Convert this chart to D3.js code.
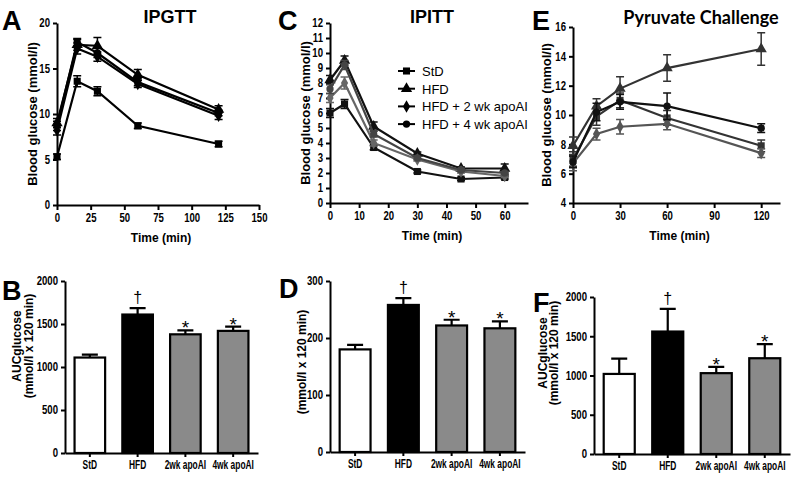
<!DOCTYPE html>
<html>
<head>
<meta charset="utf-8">
<script src="https://cdn.jsdelivr.net/npm/d3@7"></script>
<style>
  body { margin: 0; background: #fff; }
  svg { display: block; }
  .tick text { font-family: "Liberation Sans", Arial, sans-serif; font-weight: bold; font-size: 12px; fill: #000; }
  .axt { font-family: "Liberation Sans", Arial, sans-serif; font-weight: bold; font-size: 12px; }
  .ttl { font-family: "Liberation Sans", Arial, sans-serif; font-weight: bold; font-size: 18px; }
  .lab { font-family: "Liberation Sans", Arial, sans-serif; font-weight: bold; font-size: 27px; }
  .leg { font-family: "Liberation Sans", Arial, sans-serif; font-size: 13px; }
</style>
</head>
<body>
<svg id="fig" width="797" height="477"></svg>
<script>
// groups
var groups = ['StD', 'HFD', 'HFD + 2 wk apoAI', 'HFD + 4 wk apoAI'];
var barLabels = ['StD', 'HFD', '2wk apoAI', '4wk apoAI'];

// A - IPGTT
var ipgttTime = [0, 15, 30, 60, 120];
var ipgttMean = [
  [5.3, 13.6, 12.5, 8.7, 6.7],
  [9.0, 17.6, 17.5, 14.3, 10.5],
  [8.2, 17.2, 16.3, 13.3, 9.8],
  [8.7, 17.9, 16.7, 13.5, 10.1]
];
var ipgttErr = [
  [0.3, 0.6, 0.5, 0.3, 0.3],
  [0.5, 0.6, 0.9, 0.6, 0.4],
  [0.5, 0.6, 0.5, 0.4, 0.4],
  [0.5, 0.4, 0.5, 0.4, 0.3]
];

// C - IPITT
var ipittTime = [0, 5, 15, 30, 45, 60];
var ipittMean = [
  [6.0, 6.6, 3.7, 2.1, 1.6, 1.7],
  [8.2, 9.5, 5.1, 3.3, 2.3, 2.3],
  [7.0, 8.0, 4.0, 2.9, 2.1, 1.8],
  [7.6, 9.2, 4.6, 3.0, 2.2, 2.0]
];
var ipittErr = [
  [0.3, 0.3, 0.15, 0.1, 0.1, 0.1],
  [0.3, 0.3, 0.3, 0.1, 0.1, 0.3],
  [0.3, 0.4, 0.2, 0.1, 0.1, 0.1],
  [0.3, 0.3, 0.2, 0.1, 0.1, 0.1]
];

// E - pyruvate
var pyrTime = [0, 15, 30, 60, 120];
var pyrMean = [
  [7.0, 9.9, 11.0, 9.8, 7.9],
  [7.9, 10.6, 11.8, 13.2, 14.5],
  [6.7, 8.7, 9.2, 9.4, 7.4],
  [6.8, 10.2, 10.9, 10.6, 9.1]
];
var pyrErr = [
  [0.5, 0.6, 0.5, 0.5, 0.4],
  [0.6, 0.5, 0.8, 0.9, 1.1],
  [0.5, 0.4, 0.5, 0.4, 0.3],
  [0.4, 0.6, 0.5, 0.9, 0.3]
];

// AUC bars
var aucB = [1110, 1610, 1380, 1420], aucBErr = [35, 75, 45, 50];
var aucD = [180, 258, 222, 217], aucDErr = [8, 12, 10, 12];
var aucF = [1020, 1560, 1030, 1220], aucFErr = [195, 290, 80, 180];
var sigMarks = ['', '\u2020', '*', '*'];

var svg = d3.select('#fig');
var symbols = [d3.symbolSquare, d3.symbolTriangle, d3.symbolDiamond, d3.symbolCircle];
var symSize = [50, 55, 45, 42];
var barFill = ['#fff', '#000', '#8a8a8a', '#8a8a8a'];
var SX = 0.8; // narrow look for tick labels

function styleAxis(g) {
  g.selectAll('.domain').attr('stroke', '#000').attr('stroke-width', 2);
  g.selectAll('.tick line').attr('stroke', '#000').attr('stroke-width', 2);
  g.selectAll('.tick text').attr('transform', `scale(${SX},1)`);
}
function leftFix(g) {
  g.selectAll('.tick text').attr('x', -7 / SX);
}

function linePanel(o) {
  var x = d3.scaleLinear().domain(o.xd).range(o.xr);
  var y = d3.scaleLinear().domain(o.yd).range(o.yr);
  var g = svg.append('g');
  g.append('g').attr('transform', `translate(0,${o.yr[0]})`)
    .call(d3.axisBottom(x).tickValues(o.xt).tickSize(5).tickSizeOuter(0).tickFormat(d3.format('d')))
    .call(styleAxis);
  g.append('g').attr('transform', `translate(${o.xr[0]},0)`)
    .call(d3.axisLeft(y).tickValues(o.yt).tickSize(4).tickSizeOuter(0).tickFormat(d3.format('d')))
    .call(styleAxis).call(leftFix);
  var line = d3.line().x((d, i) => x(o.t[i])).y(d => y(d));
  o.m.forEach(function(ser, k) {
    var c = o.col[k];
    g.append('path').datum(ser).attr('d', line).attr('fill', 'none')
      .attr('stroke', c).attr('stroke-width', 2.2);
    ser.forEach(function(v, i) {
      var e = o.e[k][i], cx = x(o.t[i]);
      g.append('path').attr('d', `M${cx},${y(v - e)}V${y(v + e)}M${cx - 4},${y(v + e)}H${cx + 4}M${cx - 4},${y(v - e)}H${cx + 4}`)
        .attr('stroke', c).attr('stroke-width', 1.5).attr('fill', 'none');
      g.append('path').attr('d', d3.symbol(symbols[k], symSize[k])())
        .attr('transform', `translate(${cx},${y(v)})`).attr('fill', c);
    });
  });
  svg.append('text').attr('class', 'axt').attr('x', (o.xr[0] + o.xr[1]) / 2 + 3).attr('y', o.yr[0] + 37)
    .attr('text-anchor', 'middle').text('Time (min)');
  svg.append('text').attr('class', 'axt').style('font-size', '13px')
    .attr('transform', `translate(${o.ylx},${(o.yr[0] + o.yr[1]) / 2}) rotate(-90)`)
    .attr('text-anchor', 'middle').text('Blood glucose (mmol/l)');
  return g;
}

function barPanel(o) {
  var x = d3.scaleBand().domain(barLabels).range(o.xr).paddingInner(0.36).paddingOuter(0.2);
  var y = d3.scaleLinear().domain(o.yd).range(o.yr);
  var g = svg.append('g');
  o.v.forEach(function(v, i) {
    var bx = x(barLabels[i]), bw = x.bandwidth(), cx = bx + bw / 2, top = y(v + o.e[i]);
    g.append('path').attr('d', `M${cx},${y(v)}V${top}M${cx - 8},${top}H${cx + 8}`)
      .attr('stroke', '#000').attr('stroke-width', 2.2);
    g.append('rect').attr('x', bx).attr('y', y(v)).attr('width', bw).attr('height', y(0) - y(v))
      .attr('fill', barFill[i]).attr('stroke', '#000').attr('stroke-width', 2.2);
    g.append('text').attr('x', cx).attr('y', top - (i == 1 ? 5 : -4)).attr('text-anchor', 'middle')
      .style('font-family', 'Liberation Sans, Arial, sans-serif').style('font-size', i == 1 ? '16px' : '19px')
      .text(sigMarks[i]);
  });
  g.append('g').attr('transform', `translate(0,${o.yr[0]})`)
    .call(d3.axisBottom(x).tickSize(4).tickSizeOuter(0).tickPadding(3))
    .call(styleAxis)
    .call(a => a.selectAll('.tick text').attr('transform', 'scale(0.7,1)'));
  g.append('g').attr('transform', `translate(${o.xr[0]},0)`)
    .call(d3.axisLeft(y).tickValues(o.yt).tickSize(4).tickSizeOuter(0).tickFormat(d3.format('d')))
    .call(styleAxis).call(leftFix);
  o.yl.forEach(function(t, j) {
    svg.append('text').attr('class', 'axt')
      .attr('transform', `translate(${o.ylx[j]},${o.cy}) rotate(-90)`)
      .attr('text-anchor', 'middle').text(t);
  });
}

linePanel({ xd: [0, 150], xr: [57, 259], yd: [0, 20], yr: [205, 23],
  xt: [0, 25, 50, 75, 100, 125, 150], yt: [0, 5, 10, 15, 20],
  t: ipgttTime, m: ipgttMean, e: ipgttErr, col: ['#000', '#000', '#000', '#000'], ylx: 37 });
linePanel({ xd: [0, 68], xr: [330, 528], yd: [0, 12], yr: [203, 23],
  xt: [0, 10, 20, 30, 40, 50, 60], yt: d3.range(0, 13),
  t: ipittTime, m: ipittMean, e: ipittErr, col: ['#111', '#111', '#666', '#444'], ylx: 310 });
linePanel({ xd: [0, 132], xr: [573, 780], yd: [4, 16], yr: [203, 27],
  xt: [0, 30, 60, 90, 120], yt: [4, 6, 8, 10, 12, 14, 16],
  t: pyrTime, m: pyrMean, e: pyrErr, col: ['#333', '#333', '#555', '#111'], ylx: 551 });

barPanel({ xr: [65, 258], yd: [0, 2000], yr: [453, 281], yt: [0, 500, 1000, 1500, 2000],
  v: aucB, e: aucBErr, yl: ['AUCglucose', '(mmol/l x 120 min)'], ylx: [21, 33], cy: 346 });
barPanel({ xr: [330, 525], yd: [0, 300], yr: [452, 281], yt: [0, 100, 200, 300],
  v: aucD, e: aucDErr, yl: ['(mmol/l x 120 min)'], ylx: [306], cy: 362 });
barPanel({ xr: [594, 790], yd: [0, 2000], yr: [454, 297], yt: [0, 500, 1000, 1500, 2000],
  v: aucF, e: aucFErr, yl: ['AUCglucose', '(mmol/l x 120 min)'], ylx: [547, 558], cy: 353 });

// legend (panel C)
groups.forEach(function(gname, k) {
  var ly = 71 + k * 17.7;
  svg.append('path').attr('d', `M398,${ly}H415`).attr('stroke', '#000').attr('stroke-width', 2);
  svg.append('path').attr('d', d3.symbol(symbols[k], symSize[k])()).attr('transform', `translate(406.5,${ly})`);
  svg.append('text').attr('class', 'leg').attr('x', 422).attr('y', ly + 5).text(gname);
});

// titles and panel letters
svg.append('text').attr('class', 'ttl').attr('x', 170).attr('y', 23).attr('text-anchor', 'middle').text('IPGTT');
svg.append('text').attr('class', 'ttl').attr('x', 432).attr('y', 23).attr('text-anchor', 'middle').text('IPITT');
svg.append('text').attr('class', 'ttl').attr('x', 701).attr('y', 24).attr('text-anchor', 'middle')
  .style('font-family', 'Lato, "Open Sans", sans-serif').style('font-size', '18px').text('Pyruvate Challenge');
[['A', 2, 30], ['C', 278, 30], ['E', 532, 30], ['B', 2, 300], ['D', 279, 298], ['F', 533, 312]].forEach(function(l) {
  svg.append('text').attr('class', 'lab').attr('x', l[1]).attr('y', l[2]).text(l[0]);
});
</script>
</body>
</html>
